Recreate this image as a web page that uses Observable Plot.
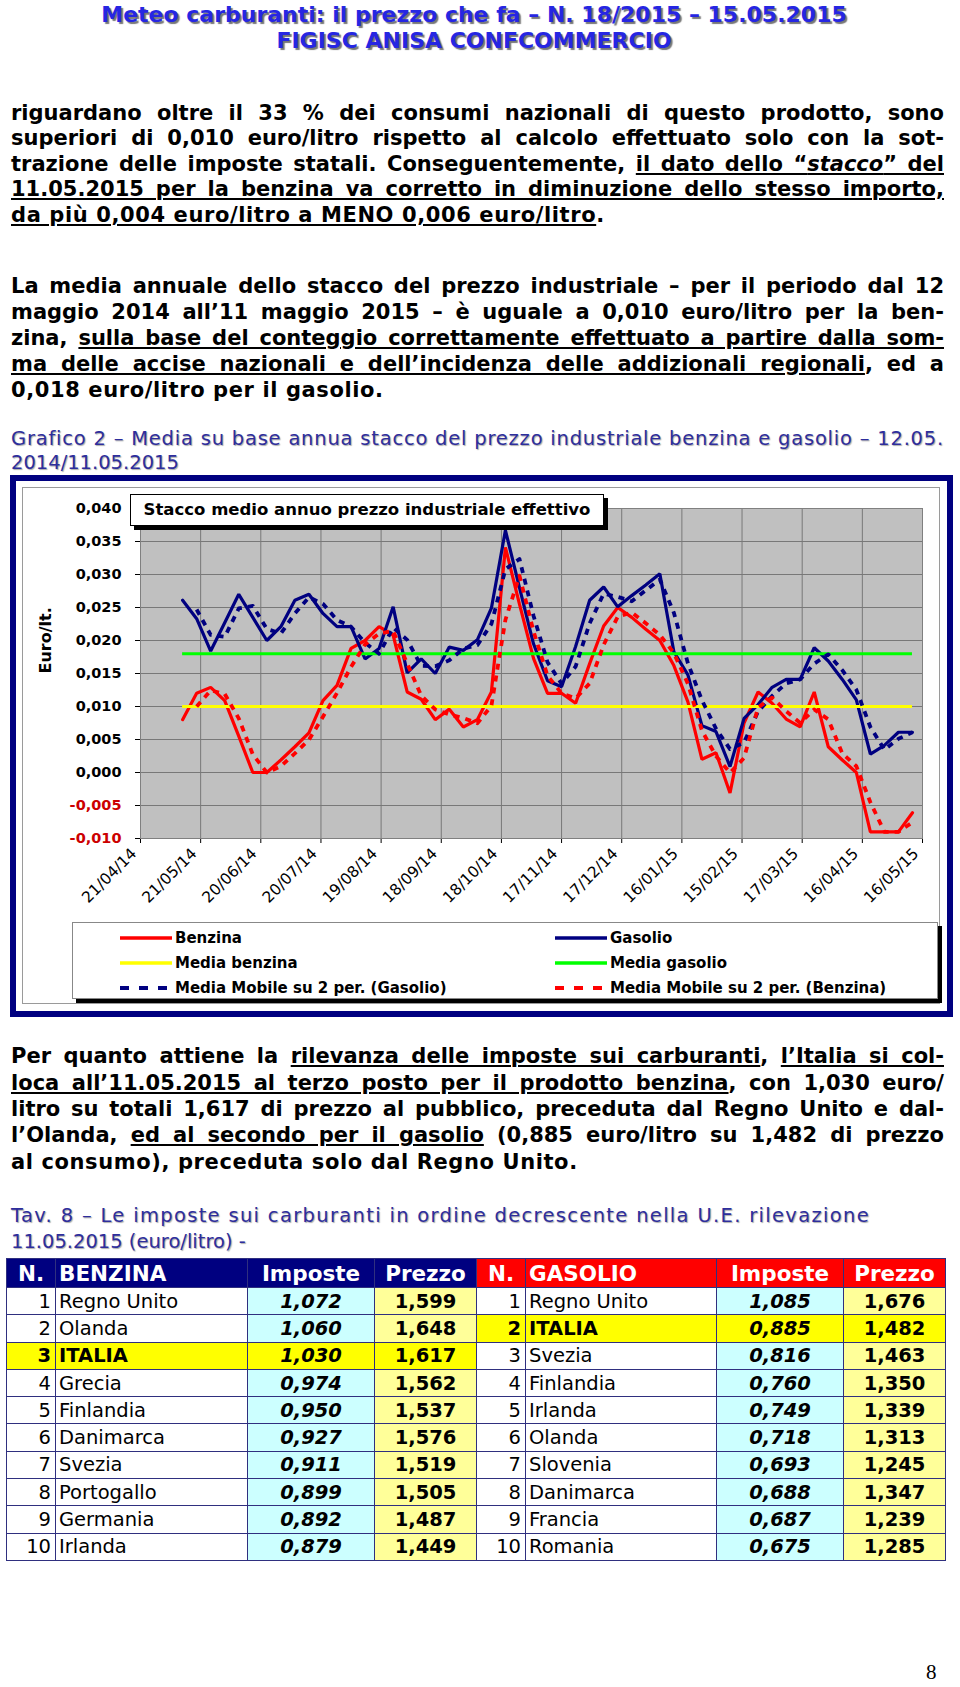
<!DOCTYPE html>
<html><head><meta charset="utf-8">
<script src="https://cdn.jsdelivr.net/npm/d3@7"></script>
<script src="https://cdn.jsdelivr.net/npm/@observablehq/plot@0.6"></script>
<style>
body{margin:0;background:#fff;}
#page{position:relative;width:960px;height:1687px;overflow:hidden;font-family:"DejaVu Sans",Verdana,sans-serif;color:#000;}
.ln{position:absolute;left:11px;width:933px;height:26px;line-height:26px;white-space:nowrap;}
.j{text-align:justify;text-align-last:justify;}
.body{font-weight:bold;font-size:21px;}
.last{letter-spacing:0.6px;}
.title{left:0;width:948px;text-align:center;font-weight:bold;font-size:22px;color:#2626e2;text-shadow:2px 2px 1px #777;}
.cap{font-size:19.5px;color:#2e2e9c;text-shadow:1px 1px 1px #aaa;}
u{text-decoration-thickness:1.5px;text-underline-offset:2px;}
#frameOuter{position:absolute;left:10px;top:475px;width:931px;height:530px;border:6px solid #000080;background:#fff;}
#frameInner{position:absolute;left:22px;top:487px;width:916px;height:515px;border:1px solid #9a9a9a;}
#chart{position:absolute;left:22px;top:487px;}
#titlebox{position:absolute;left:130px;top:494px;width:472px;height:30px;border:1px solid #000;background:#fff;box-shadow:4px 4px 0 #000;font-weight:bold;font-size:16.5px;line-height:30px;text-align:center;white-space:nowrap;}
#legend{position:absolute;left:72px;top:922px;width:864px;height:75px;border:1px solid #888;background:#fff;box-shadow:4px 4px 0 #000;}
.li{position:absolute;height:25px;line-height:25px;font-weight:bold;font-size:15px;white-space:nowrap;}
.li svg{position:absolute;left:0;top:8px;}
.li span{position:absolute;left:55px;}
table{position:absolute;left:6px;top:1258px;border-collapse:collapse;table-layout:fixed;width:939px;font-size:19.5px;}
td,th{border:1px solid #2f2f7f;padding:0;height:27.3px;box-sizing:border-box;white-space:nowrap;overflow:hidden;}
th{color:#fff;font-weight:bold;font-size:21.5px;height:29px;}
th.b{background:#000080;} th.g{background:#ff0000;}
td.n{text-align:right;padding-right:4px;}
td.p{text-align:left;padding-left:3px;}
td.i{background:#ccffff;text-align:center;font-weight:bold;font-style:italic;}
td.z{background:#ffff99;text-align:center;font-weight:bold;}
tr td.it{background:#ffff00;font-weight:bold;}
#pg{position:absolute;left:926px;top:1660px;font-family:"Liberation Serif",serif;font-size:21px;}
</style></head>
<body><div id="page">
<div class="ln title" style="top:2px">Meteo carburanti: il prezzo che fa – N. 18/2015 – 15.05.2015</div>
<div class="ln title" style="top:28px">FIGISC ANISA CONFCOMMERCIO</div>

<div class="ln body j" style="top:100px">riguardano oltre il 33 % dei consumi nazionali di questo prodotto, sono</div>
<div class="ln body j" style="top:125px">superiori di 0,010 euro/litro rispetto al calcolo effettuato solo con la sot-</div>
<div class="ln body j" style="top:151px">trazione delle imposte statali. Conseguentemente, <u>il dato dello “<i>stacco</i>” del</u></div>
<div class="ln body j" style="top:176px"><u>11.05.2015 per la benzina va corretto in diminuzione dello stesso importo,</u></div>
<div class="ln body last" style="top:202px"><u>da più 0,004 euro/litro a MENO 0,006 euro/litro</u>.</div>

<div class="ln body j" style="top:273px">La media annuale dello stacco del prezzo industriale – per il periodo dal 12</div>
<div class="ln body j" style="top:299px">maggio 2014 all’11 maggio 2015 – è uguale a 0,010 euro/litro per la ben-</div>
<div class="ln body j" style="top:325px">zina, <u>sulla base del conteggio correttamente effettuato a partire dalla som-</u></div>
<div class="ln body j" style="top:351px"><u>ma delle accise nazionali e dell’incidenza delle addizionali regionali</u>, ed a</div>
<div class="ln body last" style="top:377px">0,018 euro/litro per il gasolio.</div>

<div id="cap1" class="ln cap" style="top:426px">Grafico 2 – Media su base annua stacco del prezzo industriale benzina e gasolio – 12.05.</div>
<div class="ln cap" style="top:450px">2014/11.05.2015</div>

<div id="frameOuter"></div>
<div id="frameInner"></div>
<div id="chart"></div>
<div id="titlebox">Stacco medio annuo prezzo industriale effettivo</div>
<div id="legend"></div>

<div class="ln body j" style="top:1043px">Per quanto attiene la <u>rilevanza delle imposte sui carburanti</u>, <u>l’Italia si col-</u></div>
<div class="ln body j" style="top:1070px"><u>loca all’11.05.2015 al terzo posto per il prodotto benzina</u>, con 1,030 euro/</div>
<div class="ln body j" style="top:1096px">litro su totali 1,617 di prezzo al pubblico, preceduta dal Regno Unito e dal-</div>
<div class="ln body j" style="top:1122px">l’Olanda, <u>ed al secondo per il gasolio</u> (0,885 euro/litro su 1,482 di prezzo</div>
<div class="ln body last" style="top:1149px">al consumo), preceduta solo dal Regno Unito.</div>

<div id="cap2" class="ln cap" style="top:1203px">Tav. 8 – Le imposte sui carburanti in ordine decrescente nella U.E. rilevazione</div>
<div class="ln cap" style="top:1229px">11.05.2015 (euro/litro) -</div>

<table id="tav"></table>
<div id="pg">8</div>
</div>
<script>
// ---- chart data (Euro/lt.) ----
const dates = ["2014-05-12","2014-05-19","2014-05-26","2014-06-02","2014-06-09","2014-06-16","2014-06-23","2014-06-30",
"2014-07-07","2014-07-14","2014-07-21","2014-07-28","2014-08-04","2014-08-11","2014-08-18","2014-08-25",
"2014-09-01","2014-09-08","2014-09-15","2014-09-22","2014-09-29","2014-10-06","2014-10-13","2014-10-20","2014-10-27",
"2014-11-03","2014-11-10","2014-11-17","2014-11-24","2014-12-01","2014-12-08","2014-12-15","2014-12-22","2014-12-29",
"2015-01-05","2015-01-12","2015-01-19","2015-01-26","2015-02-02","2015-02-09","2015-02-16","2015-02-23",
"2015-03-02","2015-03-09","2015-03-16","2015-03-23","2015-03-30","2015-04-06","2015-04-13","2015-04-20","2015-04-27",
"2015-05-04","2015-05-11"];
const benzina = [0.0080,0.0120,0.0129,0.0109,0.0055,0.0000,0.0000,0.0019,0.0039,0.0060,0.0109,0.0132,0.0188,0.0200,
0.0221,0.0208,0.0122,0.0111,0.0080,0.0096,0.0069,0.0080,0.0122,0.0341,0.0255,0.0173,0.0120,0.0120,0.0105,0.0165,
0.0222,0.0250,0.0235,0.0217,0.0200,0.0162,0.0107,0.0020,0.0030,-0.0031,0.0075,0.0122,0.0105,0.0081,0.0069,0.0122,
0.0039,0.0019,0.0000,-0.0090,-0.0090,-0.0090,-0.0061];
const gasolio = [0.0261,0.0233,0.0184,0.0227,0.0270,0.0235,0.0200,0.0221,0.0261,0.0270,0.0241,0.0221,0.0221,0.0172,
0.0188,0.0251,0.0151,0.0172,0.0150,0.0190,0.0185,0.0201,0.0249,0.0367,0.0280,0.0195,0.0139,0.0130,0.0191,0.0261,
0.0281,0.0251,0.0268,0.0284,0.0301,0.0183,0.0148,0.0071,0.0062,0.0009,0.0082,0.0103,0.0129,0.0141,0.0141,0.0189,
0.0169,0.0141,0.0110,0.0028,0.0041,0.0061,0.0061];
const mediaBenzina = 0.010;
const mediaGasolio = 0.018;
const xTickLabels = ["21/04/14","21/05/14","20/06/14","20/07/14","19/08/14","18/09/14","18/10/14","17/11/14",
"17/12/14","16/01/15","15/02/15","17/03/15","16/04/15","16/05/15"];
const yTicks = [-0.010,-0.005,0.000,0.005,0.010,0.015,0.020,0.025,0.030,0.035,0.040];

// ---- table data ----
const benzinaPaesi = ["Regno Unito","Olanda","ITALIA","Grecia","Finlandia","Danimarca","Svezia","Portogallo","Germania","Irlanda"];
const benzinaImposte = [1.072,1.060,1.030,0.974,0.950,0.927,0.911,0.899,0.892,0.879];
const benzinaPrezzo = [1.599,1.648,1.617,1.562,1.537,1.576,1.519,1.505,1.487,1.449];
const gasolioPaesi = ["Regno Unito","ITALIA","Svezia","Finlandia","Irlanda","Olanda","Slovenia","Danimarca","Francia","Romania"];
const gasolioImposte = [1.085,0.885,0.816,0.760,0.749,0.718,0.693,0.688,0.687,0.675];
const gasolioPrezzo = [1.676,1.482,1.463,1.350,1.339,1.313,1.245,1.347,1.239,1.285];

// stretch a caption line to a given width with letter spacing
function fitWidth(el, target) {
  const span = document.createElement("span");
  while (el.firstChild) span.appendChild(el.firstChild);
  el.appendChild(span);
  const w = span.getBoundingClientRect().width;
  const n = span.textContent.length;
  el.style.letterSpacing = ((target - w) / n) + "px";
}
fitWidth(document.getElementById("cap1"), 933);
fitWidth(document.getElementById("cap2"), 859);

const parse = d3.utcParse("%Y-%m-%d");
const parseTick = d3.utcParse("%d/%m/%y");
const fmtTick = d3.utcFormat("%d/%m/%y");
const xTicks = xTickLabels.map(parseTick);
const data = dates.map((d, i) => ({date: parse(d), benzina: benzina[i], gasolio: gasolio[i]}));
const fmtY = d => (d < 0 ? "-" : "") + Math.abs(d).toFixed(3).replace(".", ",");
const first = data[0].date, last = data[data.length - 1].date;
const medie = [
  {y: mediaBenzina, x1: first, x2: last, c: "#ffff00"},
  {y: mediaGasolio, x1: first, x2: last, c: "#00ff00"}
];

const chart = Plot.plot({
  width: 918, height: 428,
  marginLeft: 118, marginRight: 18, marginTop: 21, marginBottom: 77,
  style: {fontFamily: "DejaVu Sans", background: "transparent", overflow: "visible", color: "#000"},
  x: {type: "utc", domain: [xTicks[0], xTicks[xTicks.length - 1]], ticks: xTicks, tickSize: 5, tickFormat: () => "", label: null},
  y: {domain: [-0.010, 0.040], ticks: yTicks, tickSize: 5, tickFormat: () => "", label: null},
  color: {type: "identity"},
  marks: [
    Plot.frame({fill: "#c0c0c0"}),
    Plot.ruleY(yTicks, {y: d => d, stroke: "#787878", strokeWidth: 1}),
    Plot.ruleX(xTicks, {x: d => d, stroke: "#787878", strokeWidth: 1}),
    Plot.frame({stroke: "#808080"}),
    Plot.lineY(data, {x: "date", y: "benzina", stroke: "#ff0000", strokeWidth: 3.2, strokeLinejoin: "miter"}),
    Plot.lineY(data, {x: "date", y: "gasolio", stroke: "#000080", strokeWidth: 3.2, strokeLinejoin: "miter"}),
    Plot.ruleY(medie, {y: "y", x1: "x1", x2: "x2", stroke: "c", strokeWidth: 3}),
    Plot.lineY(data, Plot.windowY({k: 2, anchor: "end", strict: true}, {x: "date", y: "gasolio", stroke: "#000080", strokeWidth: 3.8, strokeDasharray: "6,6", strokeLinecap: "butt"})),
    Plot.lineY(data, Plot.windowY({k: 2, anchor: "end", strict: true}, {x: "date", y: "benzina", stroke: "#ff0000", strokeWidth: 3.8, strokeDasharray: "6,6", strokeLinecap: "butt"})),
    Plot.text(yTicks, {y: d => d, text: fmtY, frameAnchor: "left", dx: -19, textAnchor: "end", fill: d => d < 0 ? "#cc0000" : "#000000", fontWeight: "bold", fontSize: 14.5}),
    Plot.text(xTicks, {x: d => d, text: fmtTick, frameAnchor: "bottom", rotate: -45, textAnchor: "end", dx: -3, dy: 16, fontSize: 15.5, fill: "#000000"}),
    Plot.text(["Euro/lt."], {text: d => d, frameAnchor: "left", dx: -95, rotate: -90, fontSize: 16, fontWeight: "bold", fill: "#000000"})
  ]
});
document.getElementById("chart").appendChild(chart);

// ---- legend ----
const legendItems = [
  {label: "Benzina", color: "#ff0000", dash: null, col: 0, row: 0},
  {label: "Gasolio", color: "#000080", dash: null, col: 1, row: 0},
  {label: "Media benzina", color: "#ffff00", dash: null, col: 0, row: 1},
  {label: "Media gasolio", color: "#00ff00", dash: null, col: 1, row: 1},
  {label: "Media Mobile su 2 per. (Gasolio)", color: "#000080", dash: "9,10", col: 0, row: 2},
  {label: "Media Mobile su 2 per. (Benzina)", color: "#ff0000", dash: "9,10", col: 1, row: 2}
];
const leg = document.getElementById("legend");
legendItems.forEach(it => {
  const d = document.createElement("div");
  d.className = "li";
  d.style.left = (it.col ? 482 : 47) + "px";
  d.style.top = (3 + it.row * 25) + "px";
  d.innerHTML = `<svg width="54" height="8"><line x1="0" x2="52" y1="4" y2="4" stroke="${it.color}" stroke-width="${it.dash ? 4 : 3.5}" ${it.dash ? `stroke-dasharray="${it.dash}"` : ""}/></svg><span>${it.label}</span>`;
  leg.appendChild(d);
});

// ---- table ----
const f3 = v => v.toFixed(3).replace(".", ",");
const tab = document.getElementById("tav");
let html = `<colgroup><col style="width:49px"><col style="width:192px"><col style="width:127px"><col style="width:102px"><col style="width:49px"><col style="width:191px"><col style="width:127px"><col style="width:102px"></colgroup>`;
html += `<tr><th class="b">N.</th><th class="b" style="text-align:left;padding-left:3px">BENZINA</th><th class="b">Imposte</th><th class="b">Prezzo</th><th class="g">N.</th><th class="g" style="text-align:left;padding-left:3px">GASOLIO</th><th class="g">Imposte</th><th class="g">Prezzo</th></tr>`;
for (let i = 0; i < 10; i++) {
  const bi = benzinaPaesi[i] === "ITALIA" ? " it" : "";
  const gi = gasolioPaesi[i] === "ITALIA" ? " it" : "";
  html += `<tr><td class="n${bi}">${i + 1}</td><td class="p${bi}">${benzinaPaesi[i]}</td><td class="i${bi}">${f3(benzinaImposte[i])}</td><td class="z${bi}">${f3(benzinaPrezzo[i])}</td>` +
          `<td class="n${gi}">${i + 1}</td><td class="p${gi}">${gasolioPaesi[i]}</td><td class="i${gi}">${f3(gasolioImposte[i])}</td><td class="z${gi}">${f3(gasolioPrezzo[i])}</td></tr>`;
}
tab.innerHTML = html;
</script>
</body></html>
